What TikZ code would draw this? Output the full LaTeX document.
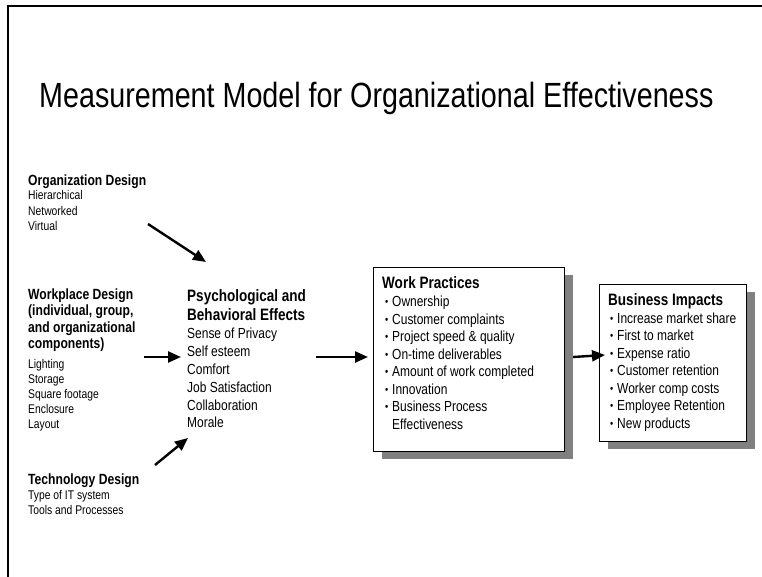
\documentclass[tikz,border=0pt]{standalone}
\usepackage{fontspec}
\setmainfont{Liberation Sans}[FakeStretch=0.82]
\usetikzlibrary{arrows.meta,shadows}
\definecolor{shadowgray}{HTML}{808080}

\begin{document}
\begin{tikzpicture}[x=1pt,y=-1pt,
  txt/.style={anchor=base west, inner sep=0pt},
  small/.style={txt, font=\fontsize{12.6}{14}\selectfont},
  head/.style={txt, font=\bfseries\fontsize{14.8}{16}\selectfont},
  bighead/.style={txt, font=\bfseries\fontsize{16.5}{18}\selectfont},
  item/.style={txt, font=\fontsize{14.6}{16}\selectfont},
  panel/.style={draw, line width=1.2pt, fill=white, anchor=north west, inner sep=0pt,
    drop shadow={shadow xshift=8pt, shadow yshift=-7pt, fill=shadowgray, opacity=1}},
  flow/.style={line width=2.4pt, -{Triangle[length=13pt,width=11pt]}}
]
\useasboundingbox (0,0) rectangle (762,577);

% page frame
\draw[line width=2.3pt] (762,6.2) -- (8.3,6.2) -- (8.3,577);

% title
\node[txt, font=\fontsize{35}{40}\selectfont] (title) at (39,108)
  {Measurement Model for Organizational Effectiveness};

% organization design
\node[head] (orgH) at (28,185.5) {Organization Design};
\foreach \t [count=\i] in {Hierarchical, Networked, Virtual}
  \node[small] (org-\i) at (28,{185+15*\i}) {\t};

% workplace design
\node[head] (wpH1) at (28,299) {Workplace Design};
\node[head] (wpH2) at (28,315.5) {(individual, group,};
\node[head] (wpH3) at (28,332) {and organizational};
\node[head] (wpH4) at (28,348.5) {components)};
\foreach \t [count=\i] in {Lighting, Storage, Square footage, Enclosure, Layout}
  \node[small] (wp-\i) at (28,{353.5+15*\i}) {\t};

% technology design
\node[head] (techH) at (28,484) {Technology Design};
\node[small] (tech-1) at (28,499.5) {Type of IT system};
\node[small] (tech-2) at (28,514.5) {Tools and Processes};

% psychological and behavioral effects
\node[bighead] (psyH1) at (187,301) {Psychological and};
\node[bighead] (psyH2) at (187,320) {Behavioral Effects};
\foreach \t [count=\i] in {Sense of Privacy, Self esteem, Comfort, Job Satisfaction, Collaboration, Morale}
  \node[item] (psy-\i) at (187,{321+17.8*\i}) {\t};

% work practices
\node[panel, minimum width=191pt, minimum height=184pt] (work) at (373,267) {};
\node[bighead] (workH) at (382,288) {Work Practices};
\foreach \t [count=\i] in {Ownership, Customer complaints, Project speed \& quality,
    On-time deliverables, Amount of work completed, Innovation, Business Process}
  \node[item] (work-\i) at (385,{289+17.5*\i})
    {\makebox[7pt][l]{\raisebox{0.6pt}{\fontsize{11}{11}\selectfont\textbullet}}\t};
\node[item] (work-8) at (392,429) {Effectiveness};

% business impacts
\node[panel, minimum width=147pt, minimum height=157pt] (biz) at (599,284) {};
\node[bighead] (bizH) at (608,305) {Business Impacts};
\foreach \t [count=\i] in {Increase market share, First to market, Expense ratio,
    Customer retention, Worker comp costs, Employee Retention, New products}
  \node[item] (biz-\i) at (610,{305.5+17.5*\i})
    {\makebox[7pt][l]{\raisebox{0.6pt}{\fontsize{11}{11}\selectfont\textbullet}}\t};

% connectors
\coordinate (orgTail) at (148,224);
\coordinate (orgHead) at (206,262);
\coordinate (wpTail) at (144,357);
\coordinate (wpHead) at (181,357);
\coordinate (techTail) at (155,465);
\coordinate (techHead) at (188,438);
\coordinate (psyTail) at (316,357);
\coordinate (workIn) at (368,357);
\coordinate (workOut) at (573,357);
\coordinate (bizIn) at (605,355);

\draw[flow] (orgTail) -- (orgHead);
\draw[flow] (wpTail) -- (wpHead);
\draw[flow] (techTail) -- (techHead);
\draw[flow] (psyTail) -- (workIn);
\draw[flow] (workOut) -- (bizIn);
\end{tikzpicture}
\end{document}
